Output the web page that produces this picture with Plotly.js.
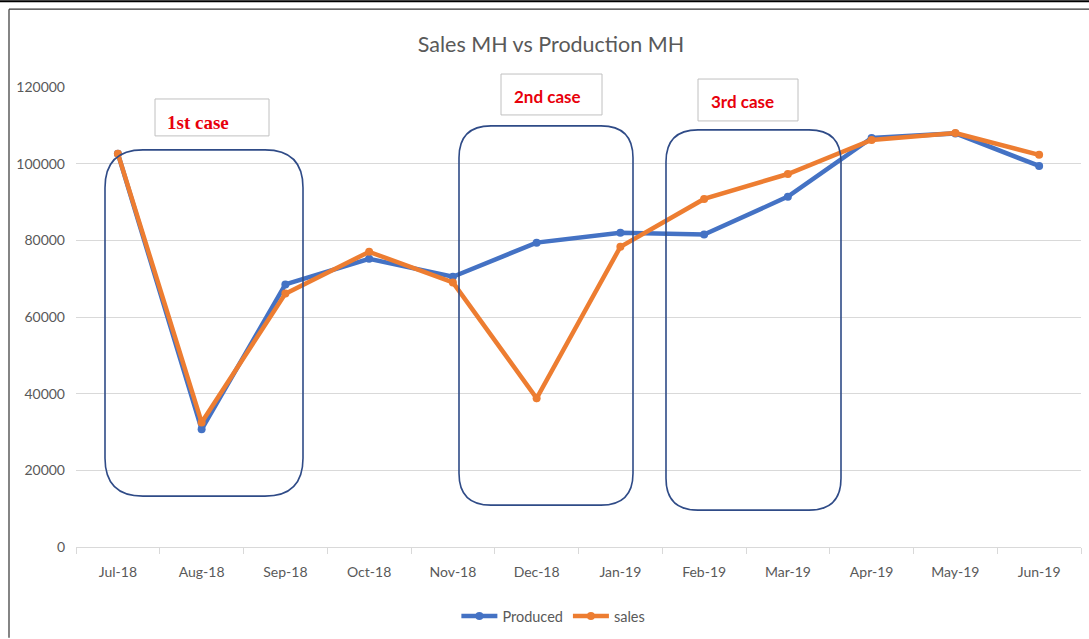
<!DOCTYPE html>
<html>
<head>
<meta charset="utf-8">
<script src="https://cdn.plot.ly/plotly-3.0.1.min.js"></script>
<style>
  html, body { margin: 0; padding: 0; background: #ffffff; }
  #chart { width: 1089px; height: 639px; }
</style>
</head>
<body>
<div id="chart"></div>
<script>
// ---- data ----
const months = ["Jul-18","Aug-18","Sep-18","Oct-18","Nov-18","Dec-18","Jan-19","Feb-19","Mar-19","Apr-19","May-19","Jun-19"];
const produced = [102600, 30700, 68500, 75200, 70500, 79400, 82000, 81500, 91400, 106700, 107900, 99400];
const sales    = [102600, 32500, 66100, 77000, 69000, 38800, 78300, 90800, 97300, 106200, 108000, 102300];
const yTicks = [0, 20000, 40000, 60000, 80000, 100000, 120000];
const caseLabels = ["1st case", "2nd case", "3rd case"];

// ---- layout geometry (pixels) ----
const W = 1089, H = 639;
const M = { l: 76, r: 8, t: 87, b: 91 };
const PW = W - M.l - M.r, PH = H - M.t - M.b;
const px = x => (x - M.l) / PW;          // pixel -> paper x
const py = y => (H - M.b - y) / PH;      // pixel -> paper y

function roundRect(x0, y0, x1, y1, r) {
  const p = (x, y) => px(x) + "," + py(y);
  return "M" + p(x0 + r, y0) +
    " L" + p(x1 - r, y0) + " Q" + p(x1, y0) + " " + p(x1, y0 + r) +
    " L" + p(x1, y1 - r) + " Q" + p(x1, y1) + " " + p(x1 - r, y1) +
    " L" + p(x0 + r, y1) + " Q" + p(x0, y1) + " " + p(x0, y1 - r) +
    " L" + p(x0, y0 + r) + " Q" + p(x0, y0) + " " + p(x0 + r, y0) + " Z";
}

const boxColor = "#2f4b87";
const shapes = [
  // rounded case boxes
  { type: "path", xref: "paper", yref: "paper", path: roundRect(105, 150, 303, 497, 38), line: { color: boxColor, width: 1.6 } },
  { type: "path", xref: "paper", yref: "paper", path: roundRect(459, 126, 633, 506, 32), line: { color: boxColor, width: 1.6 } },
  { type: "path", xref: "paper", yref: "paper", path: roundRect(666, 130, 841, 511, 32), line: { color: boxColor, width: 1.6 } },
  // label boxes
  { type: "rect", xref: "paper", yref: "paper", x0: px(155), x1: px(269), y0: py(99), y1: py(136), line: { color: "#c0c0c0", width: 1 }, fillcolor: "rgba(255,255,255,1)", layer: "above" },
  { type: "rect", xref: "paper", yref: "paper", x0: px(501), x1: px(602), y0: py(74), y1: py(115), line: { color: "#c0c0c0", width: 1 }, fillcolor: "rgba(255,255,255,1)", layer: "above" },
  { type: "rect", xref: "paper", yref: "paper", x0: px(698), x1: px(798), y0: py(79), y1: py(121), line: { color: "#c0c0c0", width: 1 }, fillcolor: "rgba(255,255,255,1)", layer: "above" },
  // outer frame lines
  { type: "line", xref: "paper", yref: "paper", x0: px(0), x1: px(W), y0: py(1), y1: py(1), line: { color: "#000000", width: 2 } },
  { type: "line", xref: "paper", yref: "paper", x0: px(9), x1: px(W), y0: py(9), y1: py(9), line: { color: "#333333", width: 1.2 } },
  { type: "line", xref: "paper", yref: "paper", x0: px(9), x1: px(9), y0: py(9), y1: py(H), line: { color: "#333333", width: 1.2 } }
];

const annotations = [
  { xref: "paper", yref: "paper", x: px(198), y: py(123), text: "<b>" + caseLabels[0] + "</b>", showarrow: false,
    font: { family: "Liberation Serif, serif", size: 19, color: "#e8000b" }, xanchor: "center", yanchor: "middle" },
  { xref: "paper", yref: "paper", x: px(547), y: py(97), text: "<b>" + caseLabels[1] + "</b>", showarrow: false,
    font: { family: "Lato, sans-serif", size: 17, color: "#e8000b" }, xanchor: "center", yanchor: "middle" },
  { xref: "paper", yref: "paper", x: px(742), y: py(102), text: "<b>" + caseLabels[2] + "</b>", showarrow: false,
    font: { family: "Lato, sans-serif", size: 17, color: "#e8000b" }, xanchor: "center", yanchor: "middle" }
];

const traces = [
  { x: months, y: produced, name: "Produced", type: "scatter", mode: "lines+markers",
    line: { color: "#4472c4", width: 4.5 }, marker: { color: "#4472c4", size: 8 } },
  { x: months, y: sales, name: "sales", type: "scatter", mode: "lines+markers",
    line: { color: "#ed7d31", width: 4.5 }, marker: { color: "#ed7d31", size: 8 } }
];

const layout = {
  width: W, height: H,
  margin: M,
  paper_bgcolor: "#ffffff", plot_bgcolor: "#ffffff",
  font: { family: "Lato, sans-serif", color: "#595959", size: 14 },
  title: { text: "Sales MH vs Production MH", x: 551 / W, xanchor: "center", y: 1 - 44 / H, yanchor: "middle",
           font: { family: "Lato, sans-serif", size: 21.5, color: "#595959" } },
  xaxis: { type: "category", range: [-0.5, months.length - 0.5], showgrid: false, zeroline: false,
           showline: true, linecolor: "#d9d9d9", linewidth: 1,
           ticks: "outside", tickson: "boundaries", ticklen: 6, tickcolor: "#d9d9d9",
           ticklabelstandoff: 12,
           tickfont: { size: 14, color: "#595959" }, fixedrange: true },
  yaxis: { range: [0, 120000], tickvals: yTicks, ticktext: yTicks.map(String),
           showgrid: true, gridcolor: "#d9d9d9", gridwidth: 1, zeroline: false, showline: false,
           ticks: "", ticklabelstandoff: 10,
           tickfont: { size: 14, color: "#595959" }, fixedrange: true },
  legend: { orientation: "h", x: 0.475, xanchor: "center", y: py(616), yanchor: "middle",
            font: { size: 14.5, color: "#595959" }, itemwidth: 36, bgcolor: "rgba(0,0,0,0)" },
  shapes: shapes,
  annotations: annotations,
  showlegend: true
};

Plotly.newPlot("chart", traces, layout, { displayModeBar: false, staticPlot: true });
</script>
</body>
</html>
